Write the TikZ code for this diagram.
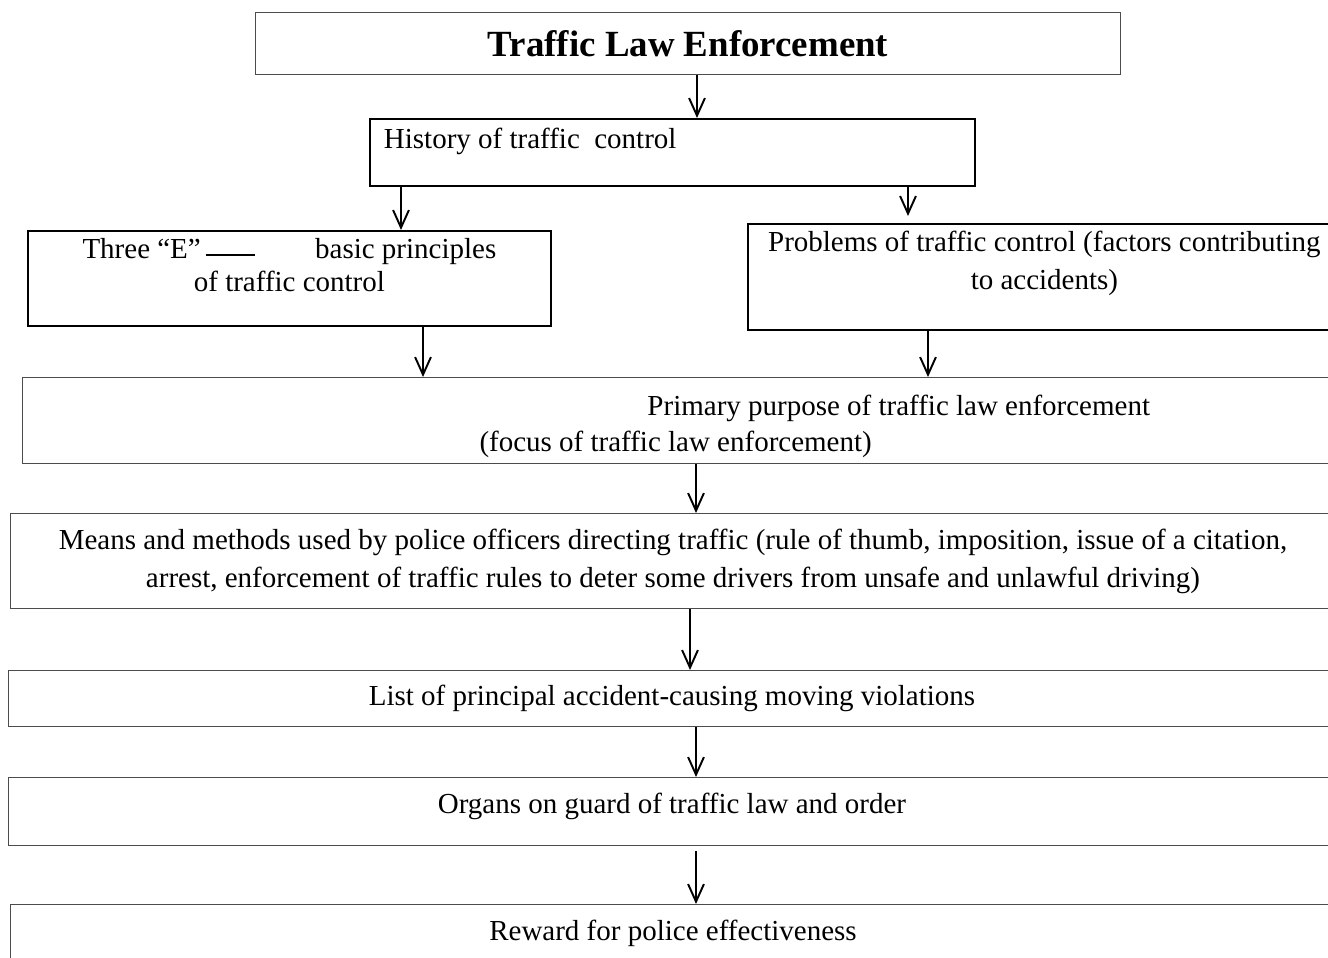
\documentclass[tikz,border=0pt]{standalone}
\usepackage{fontspec}
\setmainfont{Liberation Serif}
\usetikzlibrary{arrows.meta}

\tikzset{
  thinbox/.style={draw=black!70, line width=0.7pt, inner sep=0pt, anchor=north west, align=center},
  thickbox/.style={draw=black, line width=1.1pt, inner sep=0pt, anchor=north west, align=center},
  flow/.style={-{Straight Barb[length=10pt,width=9pt]}, line width=1.1pt}
}

\begin{document}
\begin{tikzpicture}[x=0.02cm, y=-0.02cm, font=\fontsize{16.5}{21}\selectfont]
        \useasboundingbox (0,0) rectangle (1328,957);
        \def \dash {\rule[1.2pt]{28.3pt}{1.1pt}}
        
        \node[thinbox, minimum width=17.3cm, minimum height=1.24cm,
              font=\fontsize{21}{25}\selectfont\bfseries] (law) at (255,12) {Traffic Law Enforcement};
        \node[thickbox, minimum height=1.34cm, text width=11.54cm, inner xsep=0.28cm,
              align=flush left, text depth=16.5pt] (hist) at (369,118) {History of traffic\ \ control};
        \node[thickbox, minimum width=10.46cm, minimum height=1.9cm, text depth=15.6pt] (three) at (27,230)
              {Three “E”\hspace{2.8pt}\dash\hspace{34pt}basic principles\\[-2pt]of traffic control};
        \node[thickbox, minimum width=11.86cm, minimum height=2.12cm, text depth=19.3pt] (prob) at (747,223)
              {Problems of traffic control (factors contributing\\[0.5pt]to accidents)};
        \node[thinbox, minimum height=1.72cm, text width=16cm, inner xsep=9.14cm,
              align=flush left, text height=18.2pt] (prim) at (22,377)
              {\hspace*{3.36cm}Primary purpose of traffic law enforcement\\(focus of traffic law enforcement)};
        \fill[white] ([xshift=1pt,yshift=0.45pt]prim.south west) rectangle ([yshift=3.4pt]prim.south east);
        \node[thinbox, minimum width=26.5cm, minimum height=1.9cm] (means) at (10,513)
              {Means and methods used by police officers directing traffic (rule of thumb, imposition, issue of a citation,\\[0.5pt]
               arrest, enforcement of traffic rules to deter some drivers from unsafe and unlawful driving)};
        \node[thinbox, minimum width=26.54cm, minimum height=1.12cm] (list) at (8,670)
              {List of principal accident-causing moving violations};
        \node[thinbox, minimum width=26.54cm, minimum height=1.36cm, text depth=9pt] (organs) at (8,777)
              {Organs on guard of traffic law and order};
        \node[thinbox, minimum width=26.5cm, minimum height=1.14cm] (reward) at (10,904)
              {Reward for police effectiveness};
        
        \foreach \a/\b/\x in {law/hist/697, hist/three/401, three/prim/423, prob/prim/928,
                              prim/means/696, means/list/690, list/organs/696}{
          \draw[flow] (\a.south -| \x,0) -- (\b.north -| \x,0);
        }
        \draw[flow, shorten >=4pt] (hist.south -| 908,0) -- (prob.north -| 908,0);
        \draw[flow, shorten <=2.8pt] (organs.south -| 696,0) -- (reward.north -| 696,0);
        \end{tikzpicture}
\end{document}
